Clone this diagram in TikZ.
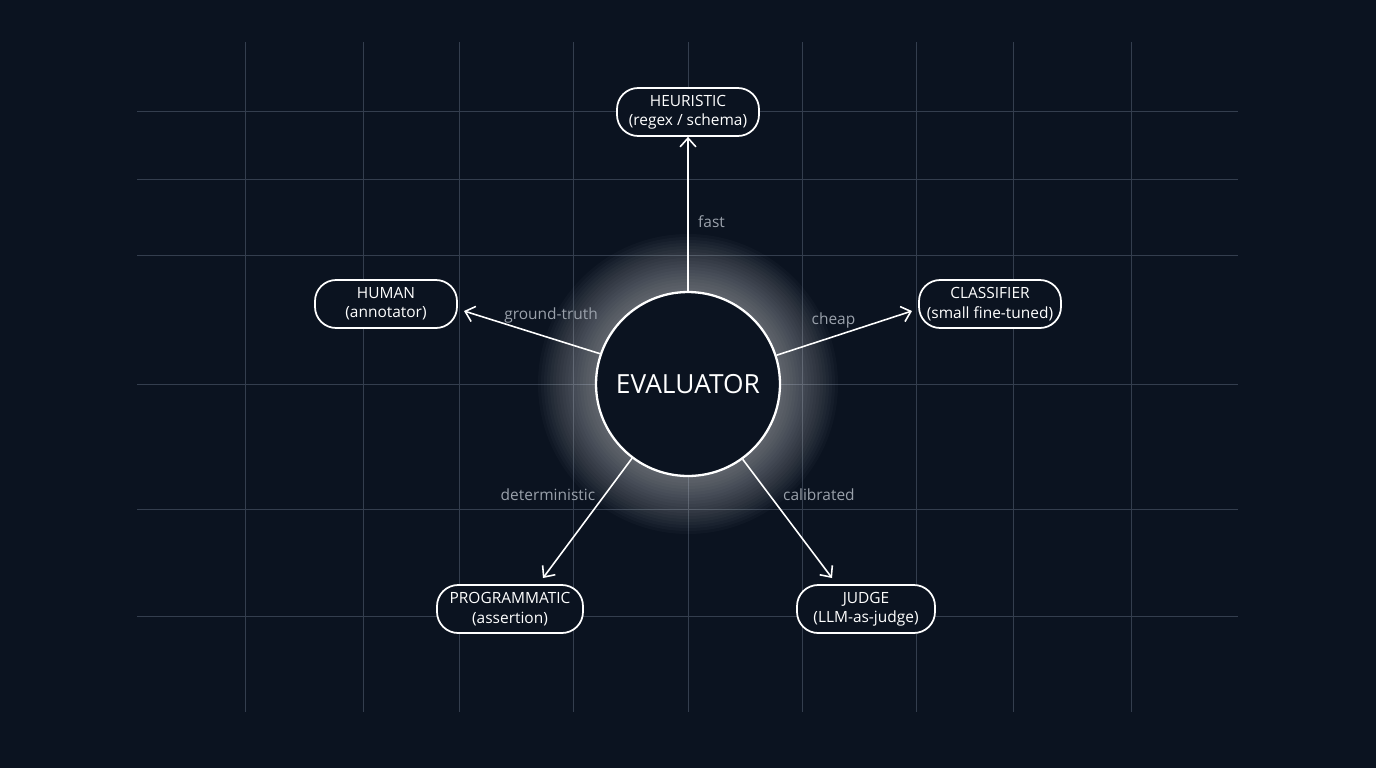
\documentclass[tikz,border=0pt]{standalone}
\usepackage{fontspec}
\setmainfont{Open Sans}
\usetikzlibrary{arrows.meta,positioning}
\definecolor{bgnight}{HTML}{0B1320}
\definecolor{gridline}{HTML}{343E4E}
\definecolor{edgelabel}{HTML}{9AA1AB}

\tikzset{
  kind/.style={draw=white, line width=1pt, rounded corners=12pt, fill=bgnight,
    text=white, align=center, font=\fontsize{8.8}{11}\selectfont,
    minimum height=0.96cm, inner xsep=4pt},
  spoke/.style={draw=white, line width=0.9pt, -{Straight Barb[length=5pt,width=9pt]}},
  cue/.style={text=edgelabel, font=\fontsize{8.8}{11}\selectfont}
}

\begin{document}
\begin{tikzpicture}[x=0.02cm, y=-0.02cm]
    \useasboundingbox (0,0) rectangle (1376,768);
    \fill[bgnight] (0,0) rectangle (1376,768);

    % Grid
    \foreach \gx in {245,363,459,573,688,802,916,1013,1131}
        \draw[gridline, line width=0.5pt] (\gx,42) -- (\gx,712);
    \foreach \gy in {111,179,255,384,509,616}
        \draw[gridline, line width=0.5pt] (137,\gy) -- (1238,\gy);

    % Glow
    \foreach \r in {150,147,...,93}
        \fill[white, opacity=0.022] (688,384) circle (\r);

    % Hub
    \node[circle, draw=white, line width=1.3pt, fill=bgnight, minimum size=3.68cm,
        text=white, font=\fontsize{15}{18}\selectfont] (eval) at (688,384) {EVALUATOR};

    % Evaluator kinds
    \node[kind, minimum width=2.84cm] (heur) at (688,112) {HEURISTIC\\(regex / schema)};
    \node[kind, minimum width=2.84cm] (human) at (386,304) {HUMAN\\(annotator)};
    \node[kind, minimum width=2.84cm] (clf) at (990,304) {CLASSIFIER\\(small fine-tuned)};
    \node[kind, minimum width=2.92cm] (prog) at (510,609) {PROGRAMMATIC\\(assertion)};
    \node[kind, minimum width=2.76cm] (judge) at (866,609) {JUDGE\\(LLM-as-judge)};

    % Arrow ends
    \coordinate (humanEnd) at (464,311);
    \coordinate (clfEnd) at (912,311);
    \coordinate (progEnd) at (543,578);
    \coordinate (judgeEnd) at (832,578);

    % Spokes
    \draw[spoke] (eval.north) -- (heur.south) node[cue, pos=0.45, right=2pt] {fast};
    \draw[spoke] (eval.161.6) -- (humanEnd) node[cue, pos=0.36, above=5pt] {ground-truth};
    \draw[spoke] (eval.18.4) -- (clfEnd) node[cue, pos=0.42, above=1pt] {cheap};
    \draw[spoke] (eval.233.6) -- (progEnd) node[cue, pos=0.3, left=2pt] {deterministic};
    \draw[spoke] (eval.306.4) -- (judgeEnd) node[cue, pos=0.3, right=4pt] {calibrated};
\end{tikzpicture}
\end{document}
